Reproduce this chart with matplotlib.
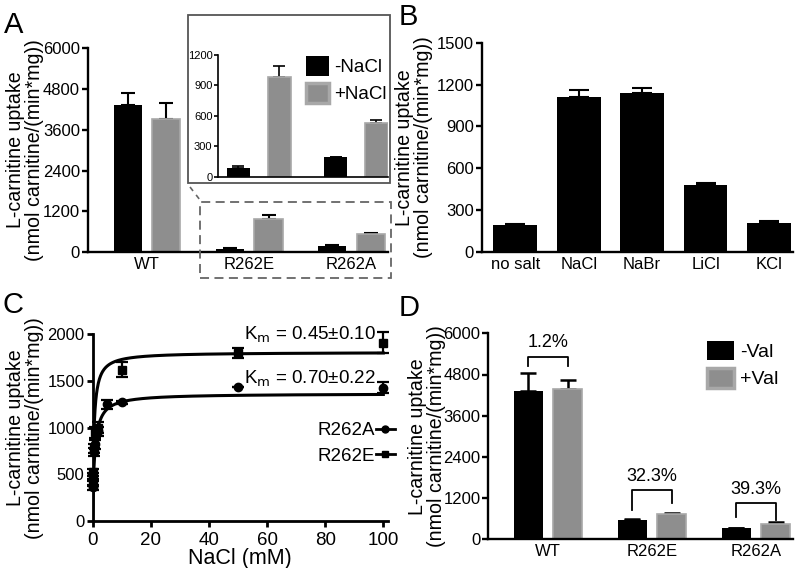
import matplotlib
matplotlib.use("Agg")
import matplotlib.pyplot as plt
import numpy as np
from matplotlib.patches import Patch, Rectangle
from matplotlib.lines import Line2D

plt.rcParams["font.family"] = ["Liberation Sans", "DejaVu Sans"]

BLACK = "#000000"
GRAY = "#8e8e8e"
GRAY_EDGE = "#a8a8a8"

# panel A: NaCl dependence
groupsA = ["WT", "R262E", "R262A"]
minusNaCl = [4330, 83, 191]
minusNaClErr = [360, 22, 6]
plusNaCl = [3910, 986, 532]
plusNaClErr = [470, 108, 27]

# panel B: salts
saltNames = ["no salt", "NaCl", "NaBr", "LiCl", "KCl"]
saltUptake = [191, 1112, 1141, 478, 208]
saltErr = [8, 48, 36, 12, 12]

# panel C: NaCl titration
naclE = [0, 0.1, 0.5, 1, 2, 10, 50, 100]
uptakeE = [400, 520, 780, 950, 1000, 1620, 1800, 1910]
errE = [30, 40, 50, 60, 60, 80, 50, 110]
naclA = [0, 0.1, 0.5, 1, 2, 5, 10, 50, 100]
uptakeA = [360, 480, 740, 820, 960, 1250, 1270, 1440, 1430]
errA = [30, 30, 40, 50, 50, 50, 20, 0, 60]
kmE, vmaxE = 0.45, 1808
kmA, vmaxA = 0.70, 1365

# panel D: valinomycin
groupsD = ["WT", "R262E", "R262A"]
minusVal = [4320, 562, 320]
minusValErr = [530, 20, 18]
plusVal = [4378, 728, 437]
plusValErr = [262, 47, 58]
pctLabels = ["1.2%", "32.3%", "39.3%"]

W, H = 796, 568


def px_axes(l, t, r, b):
    return [l / W, 1 - b / H, (r - l) / W, (b - t) / H]


def style(ax, lw=1.7):
    for s in ["top", "right"]:
        ax.spines[s].set_visible(False)
    for s in ["left", "bottom"]:
        ax.spines[s].set_linewidth(lw)
    ax.tick_params(direction="out", length=4.5, width=lw, labelsize=12)
    ax.tick_params(axis="y", pad=1.2)


def ylab(ax, xfrac):
    ax.set_ylabel("L-carnitine uptake\n(nmol carnitine/(min*mg))", fontsize=14.1, linespacing=1.0)
    ax.yaxis.set_label_coords(xfrac, 0.5)


def err_up(ax, x, y, e, lw=1.5, cap=5):
    ax.errorbar(x, y, yerr=[np.zeros(len(e)), e], fmt="none", ecolor="black",
                elinewidth=lw, capsize=cap, capthick=lw, zorder=1)


fig = plt.figure(figsize=(7.96, 5.68), dpi=100)

# ---------- A
axA = fig.add_axes(px_axes(88, 48.3, 388, 252))
xA = np.arange(len(groupsA))
bw, off = 0.275, 0.19
err_up(axA, xA - off, minusNaCl, minusNaClErr)
err_up(axA, xA + off, plusNaCl, plusNaClErr)
axA.bar(xA - off, minusNaCl, bw, color=BLACK, zorder=2)
axA.bar(xA + off, plusNaCl, bw, color=GRAY, edgecolor=GRAY_EDGE, linewidth=1.2, zorder=2)
axA.set_ylim(0, 6000)
axA.set_xlim(-0.578, 2.36)
axA.set_yticks([0, 1200, 2400, 3600, 4800, 6000])
axA.set_xticks(xA)
axA.set_xticklabels(groupsA, fontsize=13)
style(axA)
axA.tick_params(axis="x", length=0)
ylab(axA, -0.145)

# inset frame and dashed box
fig.patches.append(Rectangle((188 / W, 1 - 183 / H), 202 / W, 168 / H, transform=fig.transFigure,
                             fill=False, edgecolor="#555555", linewidth=1.3))
fig.patches.append(Rectangle((200 / W, 1 - 278 / H), 191 / W, 76 / H, transform=fig.transFigure,
                             fill=False, edgecolor="#666666", linewidth=1.3, linestyle=(0, (5, 3))))
fig.lines.append(Line2D([190 / W, 200 / W], [1 - 187 / H, 1 - 200 / H], transform=fig.transFigure,
                        color="#666666", linewidth=1.2, linestyle=(0, (3, 3))))

axI = fig.add_axes(px_axes(218, 55, 388, 176.7))
xI = np.arange(2)
bwI, offI = 0.24, 0.21
err_up(axI, xI - offI, minusNaCl[1:], minusNaClErr[1:], lw=1.2, cap=4)
err_up(axI, xI + offI, plusNaCl[1:], plusNaClErr[1:], lw=1.2, cap=4)
axI.bar(xI - offI, minusNaCl[1:], bwI, color=BLACK, zorder=2)
axI.bar(xI + offI, plusNaCl[1:], bwI, color=GRAY, edgecolor=GRAY_EDGE, linewidth=1.2, zorder=2)
axI.set_ylim(0, 1200)
axI.set_xlim(-0.42, 1.33)
axI.set_yticks([0, 300, 600, 900, 1200])
axI.set_xticks([])
style(axI, lw=1.2)
axI.tick_params(labelsize=8, length=3, pad=1)
axI.legend(handles=[Patch(facecolor=BLACK, label="-NaCl"),
                    Patch(facecolor=GRAY, edgecolor=GRAY_EDGE, linewidth=2.5, label="+NaCl")],
           loc="upper right", bbox_to_anchor=(1.09, 1.13), frameon=False, fontsize=13.5,
           handlelength=1.25, handleheight=1.25, handletextpad=0.25, labelspacing=0.35)

# ---------- B
axB = fig.add_axes(px_axes(481.7, 42.7, 793, 251.7))
xB = np.arange(len(saltNames))
err_up(axB, xB, saltUptake, saltErr, cap=7)
axB.bar(xB, saltUptake, 0.69, color=BLACK, zorder=2)
axB.set_ylim(0, 1500)
axB.set_xlim(-0.53, 4.38)
axB.set_yticks([0, 300, 600, 900, 1200, 1500])
axB.set_xticks(xB)
axB.set_xticklabels(saltNames, fontsize=13)
style(axB)
axB.tick_params(axis="x", length=0)
ylab(axB, -0.155)

# ---------- C
axC = fig.add_axes(px_axes(92.5, 334.3, 388, 521))
xs = np.linspace(0, 100, 800)
axC.plot(xs, vmaxE * xs / (kmE + xs), color="black", lw=2.2, zorder=3)
axC.plot(xs, vmaxA * xs / (kmA + xs), color="black", lw=2.2, zorder=3)
axC.errorbar(naclA, uptakeA, yerr=errA, fmt="o", color="black", ms=6, elinewidth=1.6,
             capsize=4, capthick=1.6, clip_on=False, zorder=4)
axC.errorbar(naclE, uptakeE, yerr=errE, fmt="s", color="black", ms=6, elinewidth=1.6,
             capsize=4, capthick=1.6, clip_on=False, zorder=4)
axC.set_ylim(0, 2000)
axC.set_xlim(0, 101.6)
axC.set_yticks([0, 500, 1000, 1500, 2000])
axC.set_xticks([0, 20, 40, 60, 80, 100])
style(axC, lw=2)
axC.tick_params(axis="x", labelsize=13.5)
axC.set_xlabel("NaCl (mM)", fontsize=15.5, labelpad=-1)
ylab(axC, -0.165)
axC.text(52, 1990, r"K$_{\mathrm{m}}$ = 0.45±0.10", fontsize=13.5, va="center")
axC.text(52, 1520, r"K$_{\mathrm{m}}$ = 0.70±0.22", fontsize=13.5, va="center")
axC.legend(handles=[Line2D([], [], color="black", marker="o", lw=2, ms=5, label="R262A"),
                    Line2D([], [], color="black", marker="s", lw=2, ms=5, label="R262E")],
           loc="upper right", bbox_to_anchor=(1.08, 0.62), frameon=False, fontsize=13.5,
           markerfirst=False, handlelength=1.0, handletextpad=0.05, labelspacing=0.45)

# ---------- D
axD = fig.add_axes(px_axes(488.3, 333.3, 793, 539.3))
xD = np.arange(len(groupsD))
offD = 0.19
err_up(axD, xD - offD, minusVal, minusValErr, lw=1.8, cap=6)
err_up(axD, xD + offD, plusVal, plusValErr, lw=1.8, cap=6)
axD.bar(xD - offD, minusVal, 0.275, color=BLACK, zorder=2)
axD.bar(xD + offD, plusVal, 0.275, color=GRAY, edgecolor=GRAY_EDGE, linewidth=1.2, zorder=2)
axD.set_ylim(0, 6000)
axD.set_xlim(-0.574, 2.356)
axD.set_yticks([0, 1200, 2400, 3600, 4800, 6000])
axD.set_xticks(xD)
axD.set_xticklabels(groupsD, fontsize=13)
style(axD)
axD.tick_params(axis="x", length=0)
ylab(axD, -0.14)

# bracket layout: top, left foot, right foot
bracketTop = [5320, 1436, 1049]
bracketFootL = [5050, 854, 650]
bracketFootR = [5050, 1057, 562]
for i, lab in enumerate(pctLabels):
    xl, xr = xD[i] - offD, xD[i] + offD
    axD.plot([xl, xl, xr, xr], [bracketFootL[i], bracketTop[i], bracketTop[i], bracketFootR[i]],
             color="black", lw=1.3)
    axD.text(xD[i], bracketTop[i] + 150, lab, ha="center", va="bottom", fontsize=13)

axD.legend(handles=[Patch(facecolor=BLACK, label="-Val"),
                    Patch(facecolor=GRAY, edgecolor=GRAY_EDGE, linewidth=2.5, label="+Val")],
           loc="upper left", bbox_to_anchor=(0.66, 1.05), frameon=False, fontsize=14,
           handlelength=1.4, handleheight=1.2, handletextpad=0.3, labelspacing=0.35)

# panel letters
for lab, x, y in [("A", 4, 33), ("B", 399, 25), ("C", 2, 313), ("D", 399, 316)]:
    fig.text(x / W, 1 - y / H, lab, fontsize=21, va="baseline", ha="left")

fig.savefig("out.png", dpi=100)
